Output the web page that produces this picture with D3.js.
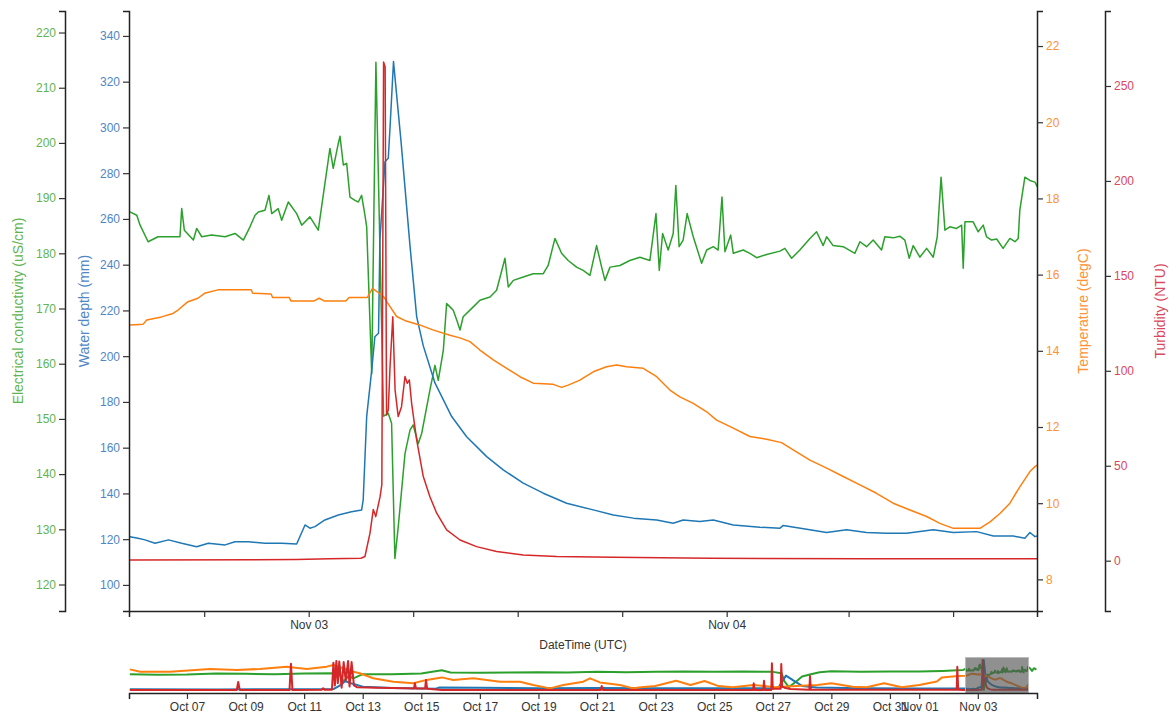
<!DOCTYPE html>
<html><head><meta charset="utf-8">
<script src="https://cdn.jsdelivr.net/npm/d3@7"></script>
<style>
body{margin:0;background:#fff;}
svg{font-family:Arial,"Liberation Sans",sans-serif;}
</style></head><body>
<svg id="chart" width="1169" height="715"></svg>
<script>
// ---------------- DATA ----------------
// main-view series: [hours since 2018-11-02 00:00, value]
const mainBase = "2018-11-02T00:00:00Z";
const ecMain = [[13.74,187.5],[14.13,186.9],[14.32,185.1],[14.78,182.1],[15.35,183.0],[15.92,183.0],[16.61,183.0],[16.71,188.1],[16.86,184.2],[17.38,182.4],[17.57,184.5],[17.86,183.0],[18.43,183.3],[19.2,183.0],[19.77,183.6],[20.25,182.4],[20.63,184.8],[20.92,186.9],[21.11,187.5],[21.49,187.8],[21.72,190.5],[21.88,187.2],[22.25,188.1],[22.45,186.0],[22.83,189.3],[23.31,187.2],[23.6,185.1],[24.07,186.6],[24.55,184.2],[25.22,199.0],[25.41,195.4],[25.7,199.9],[25.8,201.2],[25.99,196.0],[26.18,196.3],[26.37,190.2],[26.66,189.6],[26.85,189.3],[27.04,190.5],[27.23,186.9],[27.33,184.8],[27.62,158.2],[27.86,214.6],[28.3,150.5],[28.57,151.0],[28.76,149.2],[28.95,124.7],[29.14,130.4],[29.53,143.7],[29.82,148.0],[30.0,148.9],[30.29,145.5],[30.49,147.4],[30.96,155.2],[31.25,159.7],[31.44,157.0],[31.73,162.4],[31.92,170.9],[32.11,170.3],[32.3,169.7],[32.5,167.9],[32.69,166.1],[32.87,168.5],[33.45,170.3],[33.83,171.5],[34.41,172.1],[34.79,173.3],[35.27,179.1],[35.46,173.9],[35.75,175.1],[36.32,175.7],[36.89,176.3],[37.47,176.3],[37.75,177.8],[38.14,182.7],[38.52,180.0],[38.9,178.7],[39.38,177.5],[39.76,176.9],[40.15,176.0],[40.53,181.4],[40.82,177.5],[41.01,175.1],[41.3,177.5],[41.87,177.8],[42.44,178.7],[43.02,179.3],[43.59,178.7],[43.94,187.2],[44.13,176.9],[44.32,183.6],[44.64,180.6],[44.93,183.6],[45.08,192.3],[45.27,181.2],[45.5,182.4],[45.73,187.2],[46.08,183.0],[46.56,178.2],[46.85,180.6],[47.23,181.2],[47.51,180.6],[47.73,190.2],[47.9,180.3],[48.23,183.3],[48.38,180.0],[48.95,180.6],[49.33,180.0],[49.72,179.2],[50.29,179.8],[51.06,180.4],[51.34,180.9],[51.73,179.1],[52.2,180.6],[52.78,182.7],[53.16,183.9],[53.54,181.4],[53.74,183.0],[54.11,181.4],[54.69,181.2],[55.36,180.0],[55.65,182.1],[56.03,181.2],[56.41,182.4],[56.89,180.6],[57.08,183.0],[57.56,182.8],[57.94,183.1],[58.23,182.4],[58.48,179.1],[58.71,181.4],[59.09,179.3],[59.48,180.9],[59.86,179.3],[60.09,183.0],[60.31,193.8],[60.53,184.2],[60.81,184.8],[61.2,184.5],[61.49,185.1],[61.58,177.3],[61.68,185.7],[62.15,185.7],[62.44,183.9],[62.73,185.1],[62.92,183.0],[63.21,182.4],[63.5,182.6],[63.87,180.9],[64.26,182.7],[64.55,182.1],[64.74,182.7],[64.83,187.8],[65.12,193.8],[65.41,193.2],[65.7,192.9],[65.85,192.0]];
const depthMain = [[13.74,121.1],[14.2,120.4],[14.6,119.7],[15.18,118.2],[15.95,119.7],[16.71,118.2],[17.57,116.7],[18.24,118.2],[19.2,117.5],[19.77,118.9],[20.54,118.9],[21.49,118.2],[22.45,118.2],[23.31,117.9],[23.79,126.2],[24.07,124.8],[24.36,125.5],[24.93,128.4],[25.7,130.6],[26.46,132.0],[27.04,132.8],[27.13,137.2],[27.33,173.6],[27.62,194.0],[27.8,208.5],[28.01,210.0],[28.09,250.8],[28.38,285.0],[28.57,286.5],[28.67,300.0],[28.87,328.8],[29.04,315.0],[29.3,294.0],[29.82,248.0],[30.2,217.3],[30.58,204.5],[31.25,188.3],[32.21,173.6],[33.07,164.8],[34.22,156.1],[35.17,150.3],[36.32,144.5],[37.47,140.1],[38.81,135.7],[40.34,132.8],[41.49,130.6],[42.64,129.2],[43.98,128.4],[44.93,127.0],[45.5,128.4],[46.46,127.7],[47.23,128.4],[48.38,126.2],[49.91,125.2],[51.06,124.8],[51.25,126.0],[52.59,124.3],[53.74,122.9],[54.88,124.1],[56.03,122.9],[57.18,122.6],[58.33,122.6],[59.86,124.1],[61.01,122.9],[62.35,123.3],[63.31,121.4],[64.45,121.4],[65.12,120.4],[65.41,122.9],[65.7,121.1],[65.85,121.5]];
const tempMain = [[13.74,14.68],[14.5,14.70],[14.7,14.81],[15.55,14.89],[16.21,14.98],[16.5,15.07],[17.07,15.29],[17.64,15.38],[18.02,15.51],[18.79,15.6],[20.7,15.6],[20.79,15.51],[21.84,15.49],[21.93,15.4],[22.89,15.4],[22.98,15.31],[24.31,15.31],[24.6,15.38],[24.89,15.31],[26.13,15.31],[26.32,15.4],[27.37,15.4],[27.66,15.64],[27.94,15.55],[28.3,15.42],[28.67,15.16],[29.05,14.9],[29.6,14.78],[30.37,14.68],[31.13,14.55],[32.11,14.41],[32.69,14.34],[33.26,14.24],[33.83,14.02],[34.6,13.76],[35.37,13.54],[36.13,13.32],[36.89,13.15],[38.04,13.12],[38.52,13.04],[38.9,13.1],[39.57,13.23],[40.34,13.45],[41.1,13.58],[41.68,13.63],[42.25,13.58],[43.21,13.54],[43.98,13.32],[44.74,12.97],[45.31,12.79],[46.08,12.62],[46.85,12.40],[47.42,12.18],[48.38,11.97],[49.33,11.75],[50.29,11.68],[51.15,11.59],[51.82,11.4],[52.78,11.13],[53.74,10.92],[54.69,10.7],[55.65,10.48],[56.6,10.26],[57.56,10.0],[58.52,9.82],[59.48,9.65],[60.24,9.47],[61.01,9.34],[62.54,9.34],[63.12,9.51],[63.69,9.73],[64.26,10.0],[64.83,10.43],[65.41,10.83],[65.7,10.96],[65.85,11.0]];
const turbMain = [[13.74,0.3],[23.3,0.6],[25.2,1.0],[27.0,1.3],[27.23,2.2],[27.52,14.5],[27.71,27.0],[27.85,23.2],[28.1,33.7],[28.2,40],[28.3,262.6],[28.39,260],[28.47,76.7],[28.57,79.4],[28.67,102],[28.83,128.5],[28.96,90],[29.14,75.9],[29.33,81.1],[29.53,97],[29.66,93.4],[29.78,95.2],[29.91,82.9],[30.2,63.6],[30.58,44.3],[30.96,33.7],[31.35,25],[31.92,16.2],[32.69,10.9],[33.64,7.4],[34.79,4.8],[36.32,3.0],[38.24,2.2],[41.49,1.8],[47.04,1.3],[56,1.0],[65.85,1.0]];

// overview-only series (outside the zoomed window): [days since 2018-10-05 00:00, value]
const ctxBase = "2018-10-05T00:00:00Z";
const ecCtx = [[0.05,172],[1,170],[2,171],[3,174],[4,173],[5,172],[6,174],[7,175],[7.2,172],[7.35,150],[7.5,165],[7.7,160],[8,172],[9,172],[10,174],[10.7,184],[11,177],[12,176],[13,177],[14,178],[15,177],[16,179],[17,178],[18,179],[19,180],[20,179],[21,180],[22,179],[22.3,175],[22.4,150],[22.55,133],[22.8,150],[23.0,165],[23.3,172],[23.6,178],[24,181],[25,179],[26,180],[27,180],[27.8,182],[28.3,184],[28.5,185]];
const ecCtxLate = [[30.78,190],[30.85,182],[30.92,190],[31.0,186]];
const depthCtx = [[0.05,116],[3,115],[6,116],[7.0,117],[7.2,140],[7.4,175],[7.6,160],[8,135],[9,125],[10.5,120],[10.6,128],[12,126],[14,124],[16,125],[18,123],[20,124],[22,122],[22.2,130],[22.45,215],[22.7,180],[23.0,140],[23.5,128],[25,124],[27,121],[28.5,121]];
const tempCtx = [[0.05,17.5],[0.4,16.5],[1.42,16.5],[2.79,17.7],[3.7,17.2],[4.49,17.7],[5.4,18.7],[6.09,17.7],[6.77,18.7],[7.0,19.4],[7.68,16.5],[7.9,15.8],[8.36,13.6],[9.04,12.1],[9.73,11.4],[10.18,12.9],[10.7,14.0],[11.09,12.9],[11.78,13.6],[12.23,12.9],[12.69,12.1],[13.37,12.1],[13.82,10.7],[14.39,9.2],[14.85,10.7],[15.53,12.1],[15.76,13.6],[16.1,11.8],[16.78,10.7],[17.24,9.2],[17.5,9.7],[17.99,10.2],[18.7,12.5],[19.19,10.7],[19.67,12.4],[20.15,10.2],[20.63,9.7],[21.35,10.7],[22.07,9.7],[22.8,10.2],[23.52,10.7],[24.0,11.4],[24.72,9.9],[25.2,9.7],[25.8,11.4],[26.4,9.7],[27.0,10.7],[27.6,12.2],[27.78,14.0],[28.32,14.6]];
const turbCtx = [[0.05,0.5],[3.7,0.5],[3.75,70],[3.8,0.5],[5.5,0.5],[5.55,230],[5.6,0.5],[6.6,1],[6.65,15],[6.7,2],[6.95,3],[7.0,240],[7.05,40],[7.1,255],[7.15,60],[7.2,250],[7.28,20],[7.35,245],[7.42,80],[7.5,255],[7.55,30],[7.62,245],[7.7,40],[7.8,25],[8.5,20],[9.5,15],[9.75,12],[9.78,60],[9.82,12],[10.13,12],[10.16,88],[10.2,10],[10.6,3],[10.7,0.5],[16.13,0.5],[16.16,35],[16.2,0.5],[21.33,0.5],[21.35,59],[21.38,0.5],[21.68,0.5],[21.7,80],[21.73,0.5],[21.95,0.5],[21.97,234],[22.0,10],[22.27,10],[22.29,228],[22.32,30],[22.4,20],[22.6,8],[23.25,3],[23.27,123],[23.3,3],[24,1],[28.28,1],[28.3,204],[28.33,1],[28.5,0.5]];

// axis domains and ticks
const mainDomain = ["2018-11-02T13:41:00Z","2018-11-04T17:49:00Z"];
const ctxDomain  = ["2018-10-05T00:30:00Z","2018-11-05T00:30:00Z"];
const mainTickTimes  = ["2018-11-02T18:00:00Z","2018-11-03T00:00:00Z","2018-11-03T06:00:00Z","2018-11-03T12:00:00Z","2018-11-03T18:00:00Z","2018-11-04T00:00:00Z","2018-11-04T07:00:00Z","2018-11-04T13:00:00Z"];
const mainTickLabels = ["","Nov 03","","","","Nov 04","",""];
const ctxTickTimes = ["2018-10-07","2018-10-09","2018-10-11","2018-10-13","2018-10-15","2018-10-17","2018-10-19","2018-10-21","2018-10-23","2018-10-25","2018-10-27","2018-10-29","2018-10-31","2018-11-01","2018-11-03"];
const ecDomain = [115.2, 223.9],   ecTicks = [120,130,140,150,160,170,180,190,200,210,220];
const depthDomain = [88.6, 350.9], depthTicks = [100,120,140,160,180,200,220,240,260,280,300,320,340];
const tempDomain = [7.17, 22.92],  tempTicks = [8,10,12,14,16,18,20,22];
const turbDomain = [-26.5, 289.5], turbTicks = [0,50,100,150,200,250];

// ---------------- DRAW ----------------
const C = {ec:"#2ca02c", depth:"#1f77b4", temp:"#ff7f0e", turb:"#d62728"};
const CL = {ec:"#5fb451", depth:"#4f86c6", temp:"#ff9233", turb:"#d9485e"};
const svg = d3.select("#chart");
const L = 129, R = 1037, T = 11, B = 611;
const CT = 657, CB = 693;

const mb = new Date(mainBase).getTime(), cb = new Date(ctxBase).getTime();
const toMain = a => a.map(d => [new Date(mb + d[0]*3600e3), d[1]]);
const toCtx  = a => a.map(d => [new Date(cb + d[0]*86400e3), d[1]]);

const x  = d3.scaleUtc().domain(mainDomain.map(d=>new Date(d))).range([L,R]);
const x2 = d3.scaleUtc().domain(ctxDomain.map(d=>new Date(d))).range([L,R]);
const yEC = d3.scaleLinear().domain(ecDomain).range([B,T]);
const yD  = d3.scaleLinear().domain(depthDomain).range([B,T]);
const yT  = d3.scaleLinear().domain(tempDomain).range([B,T]);
const yN  = d3.scaleLinear().domain(turbDomain).range([B,T]);
const yEC2 = yEC.copy().range([CB,CT]);
const yD2  = yD.copy().range([CB,CT]);
const yT2  = yT.copy().range([CB,CT]);
const yN2  = yN.copy().range([CB,CT]);

const defs = svg.append("defs");
defs.append("clipPath").attr("id","clipMain").append("rect").attr("x",L).attr("y",T).attr("width",R-L).attr("height",B-T);
defs.append("clipPath").attr("id","clipCtx").append("rect").attr("x",L).attr("y",CT-2).attr("width",R-L).attr("height",CB-CT+2);

const series = [
  {key:"ec",   main:ecMain,    early:ecCtx,    late:ecCtxLate, y:yEC, y2:yEC2},
  {key:"depth",main:depthMain, early:depthCtx, late:[],        y:yD,  y2:yD2},
  {key:"temp", main:tempMain,  early:tempCtx,  late:[],        y:yT,  y2:yT2},
  {key:"turb", main:turbMain,  early:turbCtx,  late:[],        y:yN,  y2:yN2}
];

const gMain = svg.append("g").attr("clip-path","url(#clipMain)");
const gCtx  = svg.append("g").attr("clip-path","url(#clipCtx)");
series.forEach(s => {
  const md = toMain(s.main);
  gMain.append("path").datum(md)
    .attr("fill","none").attr("stroke",C[s.key]).attr("stroke-width",1.5).attr("stroke-linejoin","round")
    .attr("d", d3.line().x(d=>x(d[0])).y(d=>s.y(d[1])));
  const full = toCtx(s.early).concat(md, toCtx(s.late));
  gCtx.append("path").datum(full)
    .attr("fill","none").attr("stroke",C[s.key]).attr("stroke-width",2).attr("stroke-linejoin","round")
    .attr("d", d3.line().x(d=>x2(d[0])).y(d=>s.y2(d[1])));
});

function styleAxis(g, color, size){
  g.attr("font-family","Arial, 'Liberation Sans', sans-serif").attr("font-size",size||12);
  g.select(".domain").attr("stroke","#222").attr("stroke-width",1.5);
  g.selectAll(".tick line").attr("stroke","#333").attr("stroke-width",1.2);
  g.selectAll(".tick text").attr("fill",color);
}

// y axes
styleAxis(svg.append("g").attr("transform","translate(65,0)")
  .call(d3.axisLeft(yEC).tickValues(ecTicks).tickSizeOuter(6)), CL.ec);
styleAxis(svg.append("g").attr("transform",`translate(${L},0)`)
  .call(d3.axisLeft(yD).tickValues(depthTicks).tickSizeOuter(6)), CL.depth);
styleAxis(svg.append("g").attr("transform",`translate(${R},0)`)
  .call(d3.axisRight(yT).tickValues(tempTicks).tickSizeOuter(6)), CL.temp);
styleAxis(svg.append("g").attr("transform","translate(1105,0)")
  .call(d3.axisRight(yN).tickValues(turbTicks).tickSizeOuter(6)), CL.turb);

// x axes
styleAxis(svg.append("g").attr("transform",`translate(0,${B})`)
  .call(d3.axisBottom(x).tickValues(mainTickTimes.map(d=>new Date(d))).tickFormat((d,i)=>mainTickLabels[i]).tickSizeOuter(6)), "#333");

// brush on overview
const brush = d3.brushX().extent([[L,CT],[R,CB]]);
const gb = svg.append("g").attr("class","brush").call(brush);
gb.call(brush.move, mainDomain.map(d=>x2(new Date(d))));
gb.select(".selection").attr("fill","#555").attr("fill-opacity",0.65).attr("stroke","#bbb").attr("stroke-width",1);
gb.select(".overlay").attr("cursor","default");

styleAxis(svg.append("g").attr("transform",`translate(0,${CB})`)
  .call(d3.axisBottom(x2).tickValues(ctxTickTimes.map(d=>new Date(d+"T00:00:00Z"))).tickFormat(d3.utcFormat("%b %d")).tickSizeOuter(6)), "#333");

// axis titles
const titles = [
  {t:"Electrical conductivity (uS/cm)", x:18,   c:CL.ec},
  {t:"Water depth (mm)",                x:84,   c:CL.depth},
  {t:"Temperature (degC)",              x:1083, c:CL.temp},
  {t:"Turbidity (NTU)",                 x:1160, c:CL.turb}
];
titles.forEach(d => {
  svg.append("text").attr("transform",`translate(${d.x},${(T+B)/2}) rotate(-90)`)
    .attr("text-anchor","middle").attr("dominant-baseline","central")
    .attr("font-size",14).attr("fill",d.c).text(d.t);
});
svg.append("text").attr("x",(L+R)/2).attr("y",649).attr("text-anchor","middle")
  .attr("font-size",12).attr("fill","#333").text("DateTime (UTC)");
</script>
</body></html>
